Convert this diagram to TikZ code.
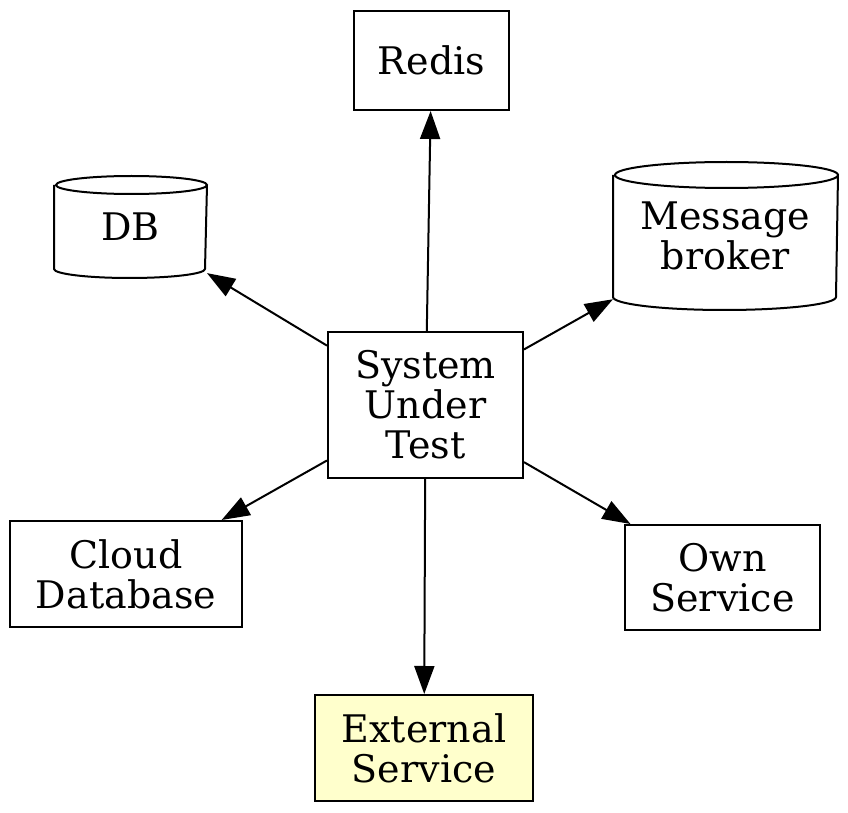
\documentclass[tikz,border=0pt]{standalone}
\usepackage{fontspec}
\setmainfont{DejaVu Serif}
\usetikzlibrary{arrows.meta}

\definecolor{extfill}{HTML}{FFFFCC}

\begin{document}
\begin{tikzpicture}[
        x=0.5pt, y=-0.5pt,
        line width=1pt,
        component/.style={rectangle,draw,inner sep=0pt,align=center,font=\fontsize{19}{20}\selectfont},
        store/.style={rectangle,inner sep=0pt,align=center,font=\fontsize{19}{20}\selectfont},
        external/.style={component,fill=extfill},
        link/.style={-{Triangle[length=14pt,width=10pt]}}
    ]

    \useasboundingbox (0,0) rectangle (848,813);

    \node[component, minimum width=77.5pt, minimum height=49.5pt] (redis) at (431.5,60.5) {Redis};
    \node[store, minimum width=75.5pt, minimum height=50pt] (db) at (130.5,227) {DB};
    \node[store, minimum width=111.5pt, minimum height=73pt] (broker) at (725.5,236) {Message\\broker};
    \node[component, minimum width=97.5pt, minimum height=73pt] (sut) at (425.5,405) {System\\Under\\Test};
    \node[component, minimum width=116pt, minimum height=53pt] (cloud) at (126,574) {Cloud\\Database};
    \node[component, minimum width=97.5pt, minimum height=52.5pt] (own) at (722.5,577.5) {Own\\Service};
    \node[external, minimum width=109pt, minimum height=53pt] (ext) at (424,748) {External\\Service};

    % cylinders
    \draw ([yshift=-4.5pt]db.north west) -- ([yshift=4.5pt]db.south west)
        arc[start angle=180, end angle=360, x radius=37.75pt, y radius=4.5pt]
        -- ([yshift=-4.5pt]db.north east)
        arc[start angle=0, end angle=180, x radius=37.75pt, y radius=4.5pt]
        arc[start angle=180, end angle=360, x radius=37.75pt, y radius=4.5pt];
    \draw ([yshift=-6.5pt]broker.north west) -- ([yshift=6.5pt]broker.south west)
        arc[start angle=180, end angle=360, x radius=55.75pt, y radius=6.5pt]
        -- ([yshift=-6.5pt]broker.north east)
        arc[start angle=0, end angle=180, x radius=55.75pt, y radius=6.5pt]
        arc[start angle=180, end angle=360, x radius=55.75pt, y radius=6.5pt];

    \draw[link] (sut) -- (redis);
    \draw[link] (sut) -- (db);
    \draw[link] (sut) -- (broker);
    \draw[link] (sut) -- (cloud);
    \draw[link] (sut) -- (own);
    \draw[link] (sut) -- (ext);

\end{tikzpicture}
\end{document}
